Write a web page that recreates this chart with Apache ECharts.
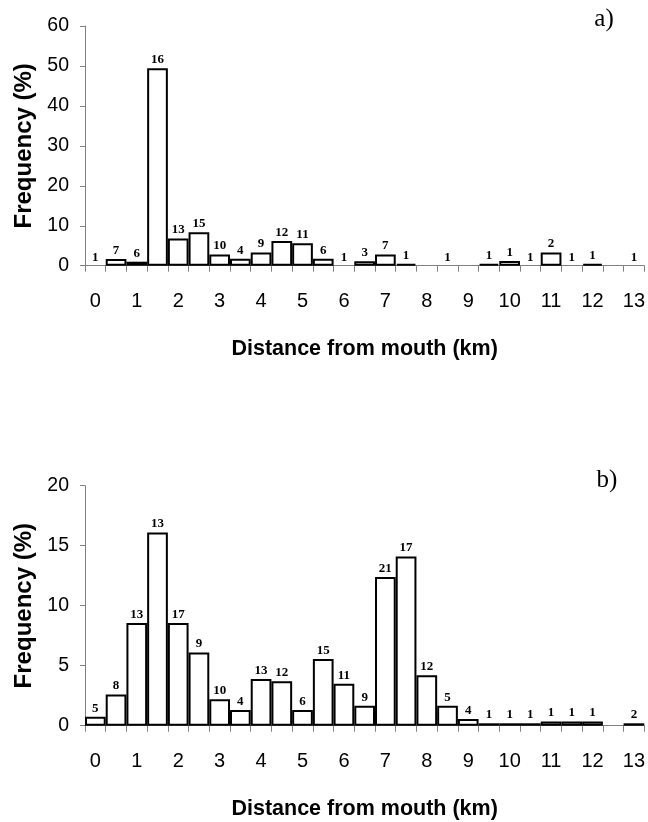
<!DOCTYPE html>
<html>
<head>
<meta charset="utf-8">
<script src="https://cdn.jsdelivr.net/npm/echarts@6/dist/echarts.min.js"></script>
<style>
  html, body { margin: 0; padding: 0; background: #ffffff; }
  #chart { width: 648px; height: 822px; }
</style>
</head>
<body>
<div id="chart"></div>
<script>
// 0.5 km distance classes from the river mouth
const distanceBins = ['0', '0.5', '1', '1.5', '2', '2.5', '3', '3.5', '4', '4.5', '5', '5.5', '6', '6.5',
  '7', '7.5', '8', '8.5', '9', '9.5', '10', '10.5', '11', '11.5', '12', '12.5', '13'];

// Panel a): frequency (%) per class and the count printed above each class
const freqA = [0, 1.7, 1.0, 49.4, 6.8, 8.4, 2.8, 1.75, 3.3, 6.2, 5.6, 1.75, 0, 1.1,
  2.8, 0.5, 0, 0, 0, 0.5, 1.2, 0, 3.3, 0, 0.5, 0, 0];
const countsA = [1, 7, 6, 16, 13, 15, 10, 4, 9, 12, 11, 6, 1, 3,
  7, 1, null, 1, null, 1, 1, 1, 2, 1, 1, null, 1];

// Panel b)
const freqB = [0.75, 2.6, 8.55, 16.1, 8.55, 6.1, 2.2, 1.3, 3.9, 3.7, 1.3, 5.55, 3.5, 1.67,
  12.4, 14.1, 4.2, 1.67, 0.55, 0.2, 0.2, 0.2, 0.35, 0.35, 0.35, 0, 0.2];
const countsB = [5, 8, 13, 13, 17, 9, 10, 4, 13, 12, 6, 15, 11, 9,
  21, 17, 12, 5, 4, 1, 1, 1, 1, 1, 1, null, 2];

// Y axis scales
const yMaxA = 60, yStepA = 10;
const yMaxB = 20, yStepB = 5;

const panelLetters = ['a)', 'b)'];
const xTitle = 'Distance from mouth (km)';
const yTitle = 'Frequency (%)';

const SANS = '"Liberation Sans", Arial, sans-serif';
const SERIF = '"Liberation Serif", "Times New Roman", serif';
const AXIS_GREY = '#808080';

// empty classes get no outline so nothing is drawn on the baseline
function barData(freq) {
  return freq.map(v => v === 0
    ? { value: 0, itemStyle: { borderWidth: 0, color: 'transparent' } }
    : v);
}

function makeSeries(idx, freq, counts) {
  return {
    type: 'bar',
    xAxisIndex: idx,
    yAxisIndex: idx,
    data: barData(freq),
    barCategoryGap: '0%',
    barGap: '0%',
    silent: true,
    itemStyle: { color: '#ffffff', borderColor: '#000000', borderWidth: 2 },
    label: {
      show: true,
      position: 'top',
      distance: 2,
      formatter: p => (counts[p.dataIndex] == null ? '' : String(counts[p.dataIndex])),
      fontFamily: SERIF,
      fontWeight: 'bold',
      fontSize: 13,
      color: '#000000'
    }
  };
}

function makeXAxis(idx) {
  return {
    type: 'category',
    gridIndex: idx,
    data: distanceBins,
    boundaryGap: true,
    axisLine: { show: true, onZero: false, lineStyle: { color: AXIS_GREY, width: 1 } },
    axisTick: { show: true, interval: 0, length: 6, alignWithLabel: false, lineStyle: { color: AXIS_GREY, width: 1 } },
    axisLabel: { show: true, interval: 1, margin: 26, hideOverlap: false, fontFamily: SANS, fontSize: 20, color: '#000000' },
    splitLine: { show: false },
    name: xTitle,
    nameLocation: 'middle',
    nameGap: 72,
    nameTextStyle: { fontFamily: SANS, fontWeight: 'bold', fontSize: 21.5, color: '#000000' }
  };
}

function makeYAxis(idx, max, step) {
  return {
    type: 'value',
    gridIndex: idx,
    min: 0,
    max: max,
    interval: step,
    axisLine: { show: true, lineStyle: { color: AXIS_GREY, width: 1 } },
    axisTick: { show: true, length: 5, lineStyle: { color: AXIS_GREY, width: 1 } },
    axisLabel: { margin: 16, fontFamily: SANS, fontSize: 19.5, color: '#000000' },
    splitLine: { show: false },
    name: yTitle,
    nameLocation: 'middle',
    nameGap: 46,
    nameTextStyle: { fontFamily: SANS, fontWeight: 'bold', fontSize: 24, color: '#000000' }
  };
}

const chart = echarts.init(document.getElementById('chart'), null, { renderer: 'canvas' });

chart.setOption({
  animation: false,
  backgroundColor: '#ffffff',
  grid: [
    { left: 85, top: 26, width: 563, height: 239.7, containLabel: false },
    { left: 85, top: 485.7, width: 563, height: 240, containLabel: false }
  ],
  xAxis: [makeXAxis(0), makeXAxis(1)],
  yAxis: [makeYAxis(0, yMaxA, yStepA), makeYAxis(1, yMaxB, yStepB)],
  series: [makeSeries(0, freqA, countsA), makeSeries(1, freqB, countsB)],
  graphic: [
    { type: 'text', x: 604, y: 19, style: { text: panelLetters[0], fontFamily: SERIF, fontSize: 25, fill: '#000000', align: 'center', verticalAlign: 'middle' } },
    { type: 'text', x: 607, y: 480, style: { text: panelLetters[1], fontFamily: SERIF, fontSize: 25, fill: '#000000', align: 'center', verticalAlign: 'middle' } }
  ]
});
</script>
</body>
</html>
